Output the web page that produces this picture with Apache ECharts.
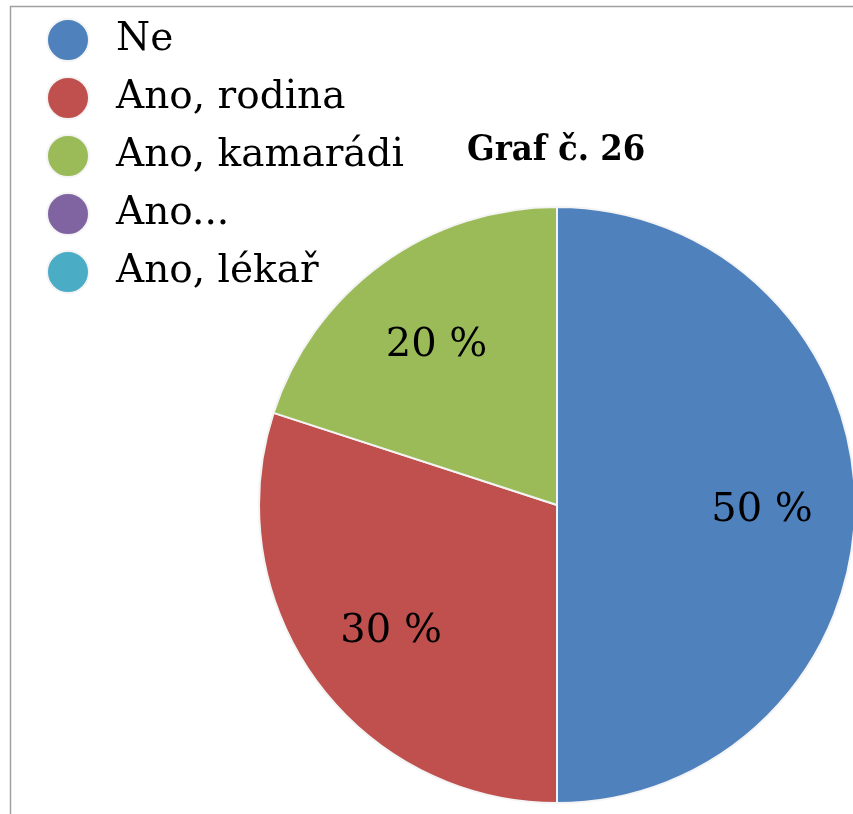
<!DOCTYPE html>
<html>
<head>
<meta charset="utf-8">
<script src="https://cdn.jsdelivr.net/npm/echarts@6/dist/echarts.min.js"></script>
<style>
  html, body { margin: 0; padding: 0; background: #fff; }
  #chart { width: 853px; height: 814px; }
</style>
</head>
<body>
<div id="chart"></div>
<script>
const categories = ['Ne', 'Ano, rodina', 'Ano, kamarádi', 'Ano...', 'Ano, lékař']
const values = [50, 30, 20, 0, 0]
const colors = ['#4F81BD', '#C0504D', '#9BBB59', '#8064A2', '#4BACC6']

const pieData = categories.map((name, i) => ({
  name: name,
  value: values[i],
  itemStyle: { color: colors[i] }
}))

const fontFamily = 'DejaVu Serif'

const option = {
  animation: false,
  title: {
    text: 'Graf č. 26',
    left: 462,
    top: 128,
    textStyle: {
      fontFamily: 'DejaVu Serif Condensed, DejaVu Serif',
      fontWeight: 'bold',
      fontSize: 36,
      color: '#000'
    }
  },
  legend: {
    orient: 'vertical',
    left: 41,
    top: 13,
    icon: 'circle',
    itemWidth: 42,
    itemHeight: 42,
    itemGap: 14,
    selectedMode: false,
    data: categories,
    textStyle: {
      fontFamily: fontFamily,
      fontSize: 39,
      color: '#000',
      padding: [2, 0, 0, 22]
    }
  },
  graphic: [{
    type: 'rect',
    shape: { x: 10.5, y: 6.5, width: 900, height: 900 },
    style: { fill: 'none', stroke: '#a0a0a0', lineWidth: 1.5 },
    silent: true
  }],
  series: [
    {
      type: 'pie',
      center: [557, 505],
      radius: [0, 298],
      startAngle: 90,
      clockwise: true,
      silent: true,
      label: { show: false },
      labelLine: { show: false },
      itemStyle: { borderColor: '#f4f4f4', borderWidth: 2 },
      data: pieData
    },
    {
      // transparent ring that only carries the labels further out
      type: 'pie',
      center: [557, 505],
      radius: [106, 298],
      startAngle: 90,
      clockwise: true,
      silent: true,
      itemStyle: { color: 'rgba(0,0,0,0)', borderWidth: 0 },
      label: {
        show: true,
        position: 'inside',
        fontFamily: fontFamily,
        fontSize: 40,
        color: '#000',
        offset: [0, 6],
        formatter: p => (p.value > 0 ? p.value + ' %' : '')
      },
      labelLine: { show: false },
      data: categories.map((name, i) => ({ name: name, value: values[i] }))
    }
  ]
}

const chart = echarts.init(document.getElementById('chart'))
chart.setOption(option)
</script>
</body>
</html>
